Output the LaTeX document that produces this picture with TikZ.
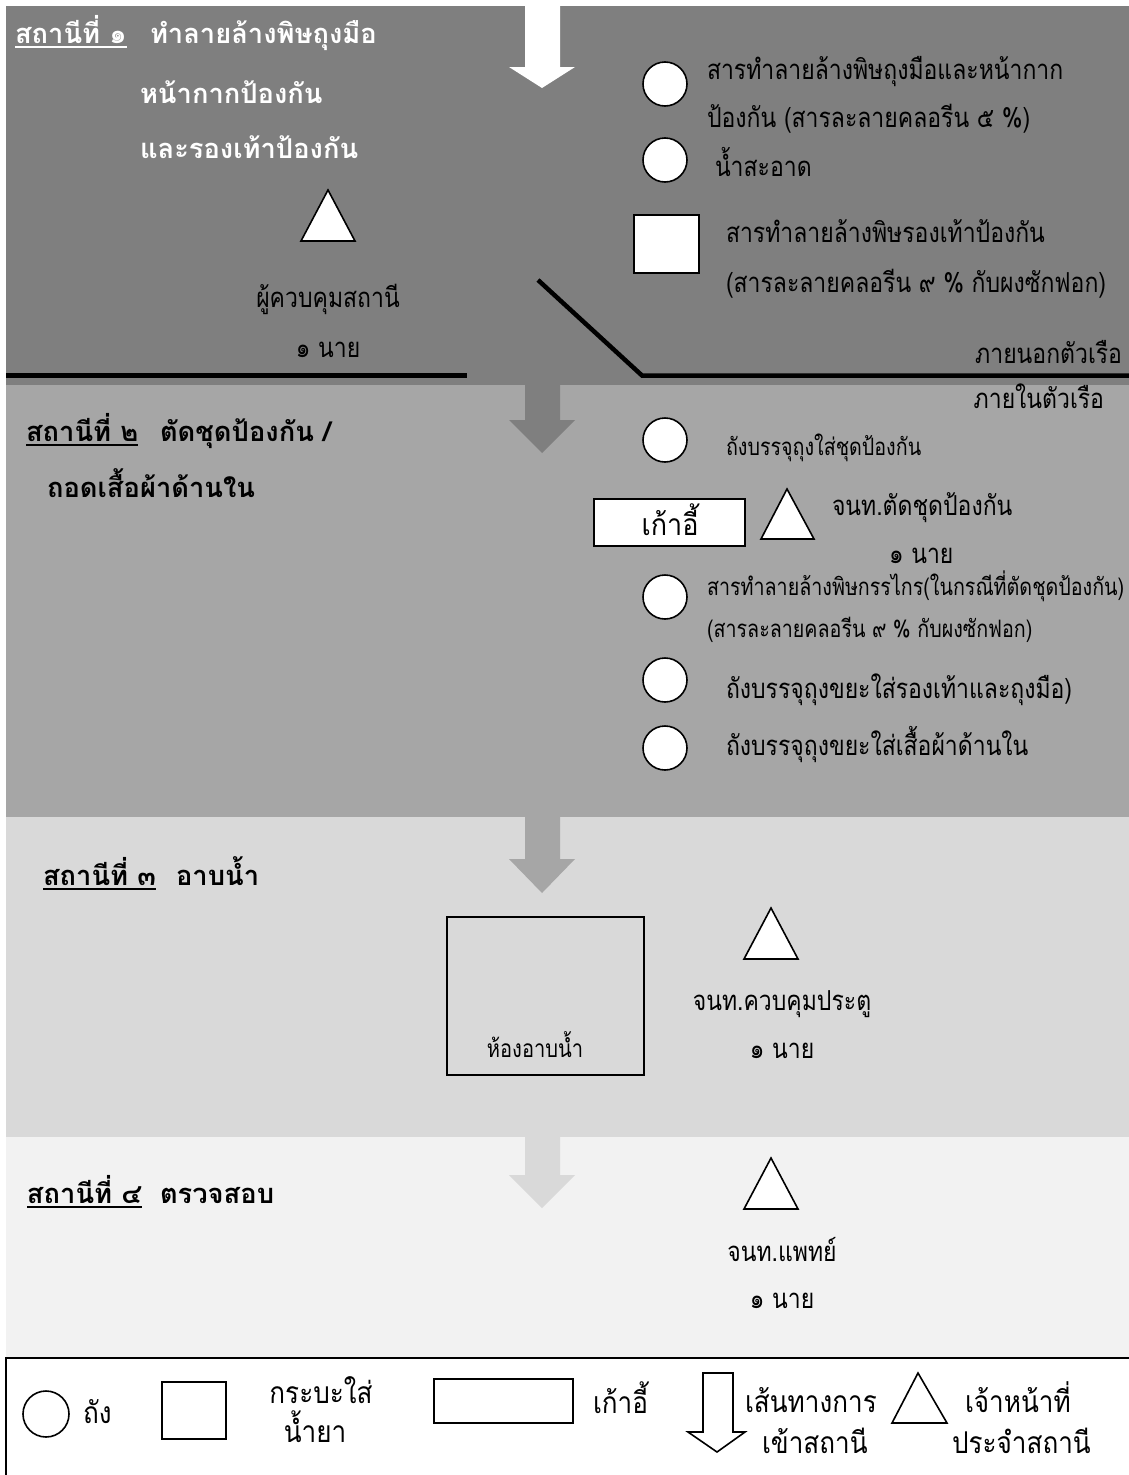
\documentclass[tikz,border=0pt]{standalone}
\usepackage{fontspec}
\setmainfont[Script=Thai]{Loma}
\newfontfamily\bodyf[Script=Thai,FakeStretch=0.836]{Loma}
\newfontfamily\smallf[Script=Thai,FakeStretch=0.82]{Loma}
\newfontfamily\legf[Script=Thai,FakeStretch=0.87]{Loma}
\newfontfamily\chairf[Script=Thai,FakeStretch=0.9]{Loma}
\definecolor{bandA}{HTML}{7F7F7F}
\definecolor{bandB}{HTML}{A6A6A6}
\definecolor{bandC}{HTML}{D9D9D9}
\definecolor{bandD}{HTML}{F2F2F2}
\tikzset{
  txt/.style={inner sep=0pt, outer sep=0pt, font=\bodyf\fontsize{27.5}{30}\selectfont},
  sm/.style={inner sep=0pt, outer sep=0pt, font=\smallf\fontsize{24}{28}\selectfont},
  lg/.style={inner sep=0pt, outer sep=0pt, font=\legf\fontsize{30}{33}\selectfont},
  ttl/.style={inner sep=0pt, outer sep=0pt, font=\fontsize{27.3}{30}\selectfont\bfseries},
  shp/.style={draw=black, fill=white, line width=1.6pt},
  tank/.style={shp, circle, minimum size=44pt, inner sep=0pt},
  uline/.style={line width=1.6pt},
  wall/.style={line width=4.5pt, black},
}
\begin{document}
\begin{tikzpicture}[x=1pt,y=-1pt]
\useasboundingbox (0,0) rectangle (1129,1475);
\fill[white] (0,0) rectangle (1129,1475);
% bands
\fill[bandA] (6,6) rectangle (1129,385);
\fill[bandB] (6,385) rectangle (1129,817);
\fill[bandC] (6,817) rectangle (1129,1137);
\fill[bandD] (6,1137) rectangle (1129,1358);
% flow arrows
\fill[white] (525,0) -- (560,0) -- (560,67) -- (575,67) -- (542,88) -- (509,67) -- (525,67) -- cycle;
\fill[bandA] (525,385) -- (560,385) -- (560,420) -- (575,420) -- (542,453) -- (509,420) -- (525,420) -- cycle;
\fill[bandB] (525,817) -- (560,817) -- (560,859) -- (575,859) -- (542,893) -- (509,859) -- (525,859) -- cycle;
\fill[bandC] (525,1137) -- (560,1137) -- (560,1175) -- (575,1175) -- (542,1208) -- (509,1175) -- (525,1175) -- cycle;
% walls
\draw[wall] (6,375.5) -- (467,375.5);
\draw[wall, line join=miter] (538,280) -- (642,375.5) -- (1131,375.5);

% ===== Station 1 =====
\node[ttl, white, anchor=base west] (t1a) at (15,43) {สถานีที่ ๑};
\draw[uline, white] ([yshift=-4pt]t1a.base west) -- ([yshift=-4pt]t1a.base east);
\node[ttl, white, anchor=base west] (t1b) at (150,43) {ทำลายล้างพิษถุงมือ};
\node[ttl, white, anchor=base west] (t1c) at (140,103) {หน้ากากป้องกัน};
\node[ttl, white, anchor=base west] (t1d) at (140,158) {และรองเท้าป้องกัน};
\draw[shp] (301,241) -- (328,190) -- (355,241) -- cycle;
\node[txt, anchor=base] (p1a) at (328,307) {ผู้ควบคุมสถานี};
\node[txt, anchor=base] (p1b) at (328,357) {๑ นาย};
\node[tank] (c1) at (665,84) {};
\node[txt, anchor=base west] (s1a) at (707,79) {สารทำลายล้างพิษถุงมือและหน้ากาก};
\node[txt, anchor=base west] (s1b) at (707,127) {ป้องกัน (สารละลายคลอรีน ๕ \%)};
\node[tank] (c2) at (665,160) {};
\node[txt, anchor=base west] (s2) at (715,176) {น้ำสะอาด};
\node[shp, minimum width=65pt, minimum height=58pt, inner sep=0pt, anchor=north west] (b1) at (633,214) {};
\node[txt, anchor=base west] (s3a) at (726,242) {สารทำลายล้างพิษรองเท้าป้องกัน};
\node[txt, anchor=base west] (s3b) at (726,292) {(สารละลายคลอรีน ๙ \% กับผงซักฟอก)};
\node[txt, anchor=base east] (out) at (1122,363) {ภายนอกตัวเรือ};

% ===== Station 2 =====
\node[txt, anchor=base east] (in) at (1104,408) {ภายในตัวเรือ};
\node[ttl, anchor=base west] (t2a) at (26,441) {สถานีที่ ๒};
\draw[uline] ([yshift=-4pt]t2a.base west) -- ([yshift=-4pt]t2a.base east);
\node[ttl, anchor=base west] (t2b) at (160,441) {ตัดชุดป้องกัน /};
\node[ttl, anchor=base west] (t2c) at (47,497) {ถอดเสื้อผ้าด้านใน};
\node[tank] (c3) at (665,440) {};
\node[sm, anchor=base west] (s4) at (726,455) {ถังบรรจุถุงใส่ชุดป้องกัน};
\node[shp, minimum width=151pt, minimum height=47pt, inner sep=0pt, anchor=north west] (chair) at (593,498) {};
\node[font=\chairf\fontsize{30}{33}\selectfont, inner sep=0pt, anchor=base] (chairt) at (670,535) {เก้าอี้};
\draw[shp] (761,539) -- (787,489) -- (814,539) -- cycle;
\node[txt, anchor=base west] (p2a) at (832,515) {จนท.ตัดชุดป้องกัน};
\node[txt, anchor=base west] (p2b) at (889,563) {๑ นาย};
\node[tank] (c4) at (665,597) {};
\node[sm, anchor=base west] (s5a) at (707,595) {สารทำลายล้างพิษกรรไกร(ในกรณีที่ตัดชุดป้องกัน)};
\node[sm, anchor=base west] (s5b) at (707,637) {(สารละลายคลอรีน ๙ \% กับผงซักฟอก)};
\node[tank] (c5) at (665,680) {};
\node[txt, anchor=base west] (s6) at (726,698) {ถังบรรจุถุงขยะใส่รองเท้าและถุงมือ)};
\node[tank] (c6) at (665,748) {};
\node[txt, anchor=base west] (s7) at (726,755) {ถังบรรจุถุงขยะใส่เสื้อผ้าด้านใน};

% ===== Station 3 =====
\node[ttl, anchor=base west] (t3a) at (43,885) {สถานีที่ ๓};
\draw[uline] ([yshift=-4pt]t3a.base west) -- ([yshift=-4pt]t3a.base east);
\node[ttl, anchor=base west] (t3b) at (176,885) {อาบน้ำ};
\node[draw=black, line width=2pt, minimum width=197pt, minimum height=158pt, inner sep=0pt, anchor=north west] (bath) at (446,916) {};
\node[sm, font=\smallf\fontsize{24.5}{28}\selectfont, anchor=base] (batht) at (535,1057) {ห้องอาบน้ำ};
\draw[shp] (744,959) -- (771,908) -- (798,959) -- cycle;
\node[txt, anchor=base] (p3a) at (782,1010) {จนท.ควบคุมประตู};
\node[txt, anchor=base] (p3b) at (782,1058) {๑ นาย};

% ===== Station 4 =====
\node[ttl, anchor=base west] (t4a) at (27,1203) {สถานีที่ ๔};
\draw[uline] ([yshift=-4pt]t4a.base west) -- ([yshift=-4pt]t4a.base east);
\node[ttl, anchor=base west] (t4b) at (160,1203) {ตรวจสอบ};
\draw[shp] (744,1209) -- (771,1158) -- (798,1209) -- cycle;
\node[txt, anchor=base] (p4a) at (782,1261) {จนท.แพทย์};
\node[txt, anchor=base] (p4b) at (782,1308) {๑ นาย};

% ===== Legend =====
\draw[line width=2.5pt, fill=white] (6,1358) rectangle (1132,1476);
\node[tank, minimum size=46pt] (lc) at (46,1414) {};
\node[lg, anchor=base west] (lct) at (83,1423) {ถัง};
\node[shp, minimum width=64pt, minimum height=57pt, inner sep=0pt, anchor=north west] (lb) at (161,1381) {};
\node[lg, anchor=base] (lbt1) at (321,1403) {กระบะใส่};
\node[lg, anchor=base] (lbt2) at (315,1442) {น้ำยา};
\node[shp, minimum width=139pt, minimum height=44pt, inner sep=0pt, anchor=north west] (lr) at (433,1378) {};
\node[lg, anchor=base west] (lrt) at (593,1413) {เก้าอี้};
\draw[shp] (703,1373) -- (733,1373) -- (733,1432) -- (745,1432) -- (717,1452) -- (688,1432) -- (703,1432) -- cycle;
\node[lg, anchor=base west] (lat1) at (745,1412) {เส้นทางการ};
\node[lg, anchor=base west] (lat2) at (762,1453) {เข้าสถานี};
\draw[shp] (892,1423) -- (918,1373) -- (947,1423) -- cycle;
\node[lg, anchor=base west] (ltt1) at (965,1412) {เจ้าหน้าที่};
\node[lg, anchor=base west] (ltt2) at (952,1453) {ประจำสถานี};
\end{tikzpicture}
\end{document}
